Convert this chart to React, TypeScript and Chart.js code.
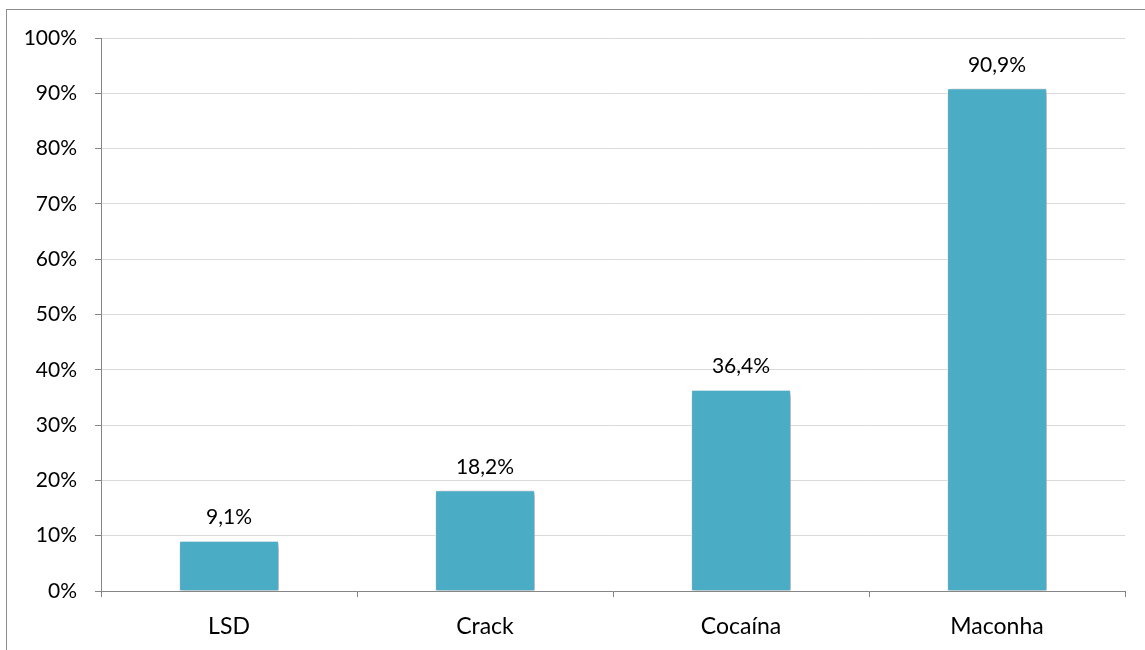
import React, { useEffect, useRef } from "react";
import { Chart, registerables } from "chart.js";

Chart.register(...registerables);

const categories = ["LSD", "Crack", "Cocaína", "Maconha"];
const values = [9.1, 18.2, 36.4, 90.9];
const valueLabels = ["9,1%", "18,2%", "36,4%", "90,9%"];

const FONT = "Lato, 'Open Sans', sans-serif";
const BAR_COLOR = "#4BACC6";
const AXIS_COLOR = "#868686";
const GRID_COLOR = "#D9D9D9";

// Soft drop shadow behind the bars
const barShadow = {
  id: "barShadow",
  beforeDatasetsDraw(chart: any) {
    const ctx = chart.ctx;
    ctx.save();
    ctx.shadowColor = "rgba(0,0,0,0.4)";
    ctx.shadowBlur = 5;
    ctx.shadowOffsetX = 2;
    ctx.shadowOffsetY = 2;
  },
  afterDatasetsDraw(chart: any) {
    chart.ctx.restore();
  },
};

// Value labels above each bar
const valueLabelPlugin = {
  id: "valueLabels",
  afterDatasetsDraw(chart: any) {
    const ctx = chart.ctx;
    const meta = chart.getDatasetMeta(0);
    ctx.save();
    ctx.font = `21px ${FONT}`;
    ctx.fillStyle = "#000";
    ctx.textAlign = "center";
    ctx.textBaseline = "bottom";
    meta.data.forEach((bar: any, i: number) => {
      ctx.fillText(valueLabels[i], bar.x, bar.y - 13);
    });
    ctx.restore();
  },
};

export default function App() {
  const canvasRef = useRef<HTMLCanvasElement | null>(null);

  useEffect(() => {
    if (!canvasRef.current) return;
    const chart = new Chart(canvasRef.current, {
      type: "bar",
      data: {
        labels: categories,
        datasets: [
          {
            data: values,
            backgroundColor: BAR_COLOR,
            borderColor: "#FFFFFF",
            borderWidth: 1,
            barPercentage: 0.39,
            categoryPercentage: 1,
          },
        ],
      },
      options: {
        animation: false,
        responsive: false,
        maintainAspectRatio: false,
        layout: { padding: { left: 0, right: 20, top: 38, bottom: 0 } },
        plugins: {
          legend: { display: false },
          tooltip: { enabled: false },
        },
        scales: {
          x: {
            grid: {
              offset: true,
              drawOnChartArea: false,
              drawTicks: true,
              tickLength: 6,
              tickColor: AXIS_COLOR,
            },
            border: { color: AXIS_COLOR, width: 1 },
            ticks: {
              color: "#000",
              font: { family: FONT, size: 23 },
              padding: 16,
            },
            afterFit(scale: any) {
              scale.height = 59;
            },
          },
          y: {
            min: 0,
            max: 100,
            grid: {
              color: GRID_COLOR,
              tickColor: AXIS_COLOR,
              tickLength: 6,
            },
            border: { color: AXIS_COLOR, width: 1 },
            ticks: {
              stepSize: 10,
              color: "#000",
              font: { family: FONT, size: 21 },
              padding: 18,
              callback: (v: any) => `${v}%`,
            },
            afterFit(scale: any) {
              scale.width = 101;
            },
          },
        },
      },
      plugins: [barShadow, valueLabelPlugin],
    });
    return () => chart.destroy();
  }, []);

  return (
    <div
      style={{
        position: "fixed",
        left: 0,
        top: 0,
        width: 1145,
        height: 650,
        overflow: "hidden",
        background: "#fff",
      }}
    >
      <div
        style={{
          position: "absolute",
          left: 6,
          top: 9,
          width: 1300,
          height: 800,
          borderTop: "1px solid #8C8C8C",
          borderLeft: "1px solid #8C8C8C",
        }}
      />
      <canvas
        ref={canvasRef}
        width={1145}
        height={650}
        style={{ position: "absolute", left: 0, top: 0 }}
      />
    </div>
  );
}
